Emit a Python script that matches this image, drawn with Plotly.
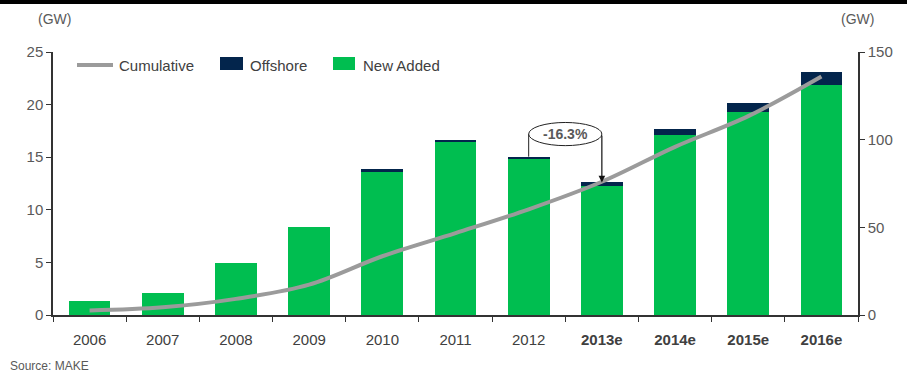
import plotly.graph_objects as go

# Annual wind capacity additions and cumulative installed base (GW)
years = ["2006", "2007", "2008", "2009", "2010", "2011", "2012",
         "2013e", "2014e", "2015e", "2016e"]
new_added = [1.33, 2.12, 4.95, 8.35, 13.64, 16.47, 14.83, 12.25, 17.10, 19.27, 21.86]
offshore = [0, 0, 0, 0, 0.20, 0.19, 0.22, 0.35, 0.55, 0.85, 1.24]
cumulative = [2.6, 4.4, 9.2, 17.3, 33.5, 46.7, 60.3, 76.0, 95.9, 113.4, 136.0]
tick_labels = [f"<b>{y}</b>" if y.endswith("e") else y for y in years]

GREEN = "#00BE50"
NAVY = "#03254C"
GRAY = "#9B9B9B"
TXT = "#595959"
FONT = "Liberation Sans, Arial, sans-serif"

W, H = 907, 374
L, R, T, B = 53, 49, 52, 59
PW, PH = W - L - R, H - T - B


def px(x):
    return (x - L) / PW


def py(y):
    return (H - B - y) / PH


fig = go.Figure()
fig.add_bar(x=years, y=new_added, name="New Added", marker_color=GREEN,
            marker_line_width=0)
fig.add_bar(x=years, y=offshore, name="Offshore", marker_color=NAVY,
            marker_line_width=0)
fig.add_scatter(x=years, y=cumulative, name="Cumulative", yaxis="y2",
                mode="lines", line=dict(color=GRAY, width=4, shape="spline",
                                        smoothing=1.0))

shapes = []
annotations = []

# Top rule
shapes.append(dict(type="rect", xref="paper", yref="paper",
                   x0=px(0), x1=px(W), y0=py(4), y1=py(0),
                   fillcolor="black", line_width=0, layer="above"))

# Legend
shapes.append(dict(type="line", xref="paper", yref="paper",
                   x0=px(77), x1=px(113), y0=py(65), y1=py(65),
                   line=dict(color=GRAY, width=4)))
shapes.append(dict(type="rect", xref="paper", yref="paper",
                   x0=px(220), x1=px(243), y0=py(70), y1=py(57),
                   fillcolor=NAVY, line_width=0))
shapes.append(dict(type="rect", xref="paper", yref="paper",
                   x0=px(333), x1=px(355), y0=py(70), y1=py(57),
                   fillcolor=GREEN, line_width=0))
for label, xl in [("Cumulative", 117), ("Offshore", 248), ("New Added", 361)]:
    annotations.append(dict(text=label, xref="paper", yref="paper",
                            x=px(xl), y=py(65), xanchor="left", yanchor="middle",
                            showarrow=False,
                            font=dict(family=FONT, size=15, color="#404040")))

# Year-on-year change callout between 2012 and 2013e
i0, i1 = years.index("2012"), years.index("2013e")
tot0 = new_added[i0] + offshore[i0]
tot1 = new_added[i1] + offshore[i1]
pct = (tot1 - tot0) / tot0 * 100
yc = tot0 + 2.15
shapes.append(dict(type="line", xref="x", yref="y", x0=i0, x1=i0,
                   y0=tot0, y1=yc, line=dict(color="#222", width=1)))
shapes.append(dict(type="circle", xref="x", yref="y", x0=i0, x1=i1,
                   y0=yc - 1.1, y1=yc + 1.1, fillcolor="white",
                   line=dict(color="#222", width=1), layer="above"))
annotations.append(dict(x=years[i1], y=tot1, ax=years[i1], ay=yc,
                        xref="x", yref="y", axref="x", ayref="y",
                        showarrow=True, arrowhead=2, arrowsize=1.1,
                        arrowwidth=1.2, arrowcolor="#111", text="", standoff=0))
annotations.append(dict(x=(i0 + i1) / 2, y=yc, xref="x", yref="y",
                        text=f"<b>{pct:.1f}%</b>", showarrow=False,
                        font=dict(family=FONT, size=14, color=TXT)))

# Unit labels and source
annotations.append(dict(text="(GW)", xref="paper", yref="paper",
                        x=px(54), y=py(19), xanchor="center", yanchor="middle",
                        showarrow=False,
                        font=dict(family=FONT, size=14, color=TXT)))
annotations.append(dict(text="(GW)", xref="paper", yref="paper",
                        x=px(857), y=py(19), xanchor="center", yanchor="middle",
                        showarrow=False,
                        font=dict(family=FONT, size=14, color=TXT)))
annotations.append(dict(text="Source: MAKE", xref="paper", yref="paper",
                        x=px(8), y=py(366), xanchor="left", yanchor="middle",
                        showarrow=False,
                        font=dict(family=FONT, size=12, color=TXT)))

fig.update_layout(
    width=W, height=H,
    margin=dict(l=L, r=R, t=T, b=B),
    paper_bgcolor="white", plot_bgcolor="white",
    barmode="stack", bargap=0.43,
    showlegend=False,
    font=dict(family=FONT, color=TXT),
    xaxis=dict(type="category", tickvals=years, ticktext=tick_labels,
               tickson="boundaries", ticks="outside", ticklen=5,
               tickcolor="#333", showline=True, linecolor="#333", linewidth=1.5,
               showgrid=False, tickfont=dict(size=15, color="#404040"),
               ticklabelstandoff=10,
               range=[-0.5, len(years) - 0.5]),
    yaxis=dict(range=[0, 25], tickvals=[0, 5, 10, 15, 20, 25], ticks="outside",
               ticklen=5, tickcolor="#333", showline=True, linecolor="#333",
               linewidth=1.5, showgrid=False, zeroline=False,
               tickfont=dict(size=15, color=TXT)),
    yaxis2=dict(range=[0, 150], tickvals=[0, 50, 100, 150], overlaying="y",
                side="right", ticks="outside", ticklen=5, tickcolor="#333",
                showline=True, linecolor="#333", linewidth=1.5, showgrid=False,
                zeroline=False, tickfont=dict(size=15, color=TXT)),
    shapes=shapes,
    annotations=annotations,
)

fig.write_html("out.html")
